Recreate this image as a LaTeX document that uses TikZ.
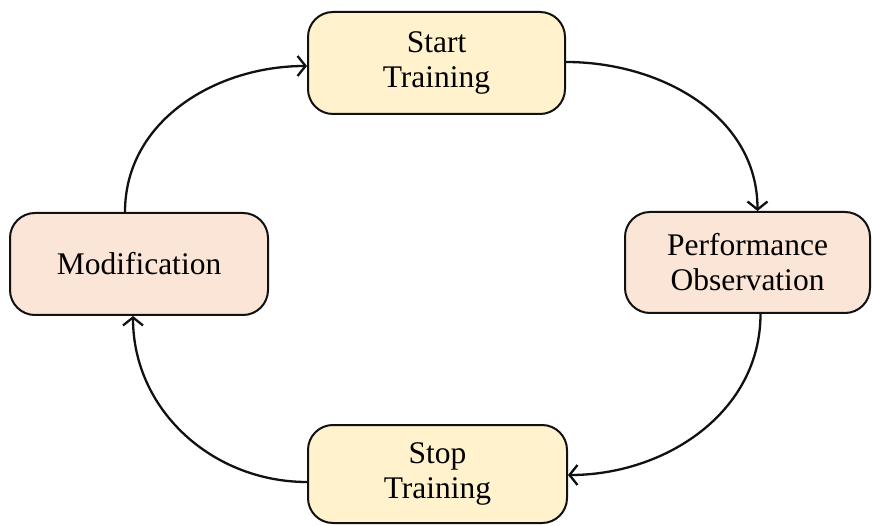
\documentclass[tikz,border=0pt]{standalone}
\usepackage{fontspec}
\setmainfont{Liberation Serif}
\usetikzlibrary{arrows.meta}
\definecolor{stagefill}{HTML}{FFF2CC}
\definecolor{actfill}{HTML}{FBE5D6}
\definecolor{edge}{HTML}{111111}
\begin{document}
\begin{tikzpicture}[x=1pt,y=1pt,
  box/.style={draw=edge, line width=2pt, rounded corners=25pt,
    align=center, inner sep=0pt, font=\fontsize{31.5}{35}\selectfont},
  stagebox/.style={box, fill=stagefill},
  actbox/.style={box, fill=actfill},
  flow/.style={draw=edge, line width=2.3pt,
    -{Straight Barb[length=8pt,width=20pt,line width=2.3pt]}}]
\useasboundingbox (0,0) rectangle (872,525);

% the four stages of the training cycle
\node[stagebox, minimum width=257pt, minimum height=102pt] (start) at (436.5,462) {Start\\Training};
\node[actbox, minimum width=245pt, minimum height=101pt] (perf) at (747.5,262.5) {Performance\\Observation};
\node[stagebox, minimum width=259pt, minimum height=98pt] (stop) at (437.5,51) {Stop\\Training};
\node[actbox, minimum width=258pt, minimum height=102pt] (mod) at (139,261) {Modification};

% cycle connectors
\draw[flow] ([xshift=-14pt]mod.north) to[out=90,in=180] ([yshift=-3pt]start.west);
\draw[flow] ([yshift=1pt]start.east) to[out=0,in=90] ([xshift=10pt]perf.north);
\draw[flow] ([xshift=13pt]perf.south) to[out=-90,in=0] ([yshift=-1pt]stop.east);
\draw[flow] ([yshift=-8pt]stop.west) to[out=180,in=-90] ([xshift=-6pt]mod.south);
\end{tikzpicture}
\end{document}
